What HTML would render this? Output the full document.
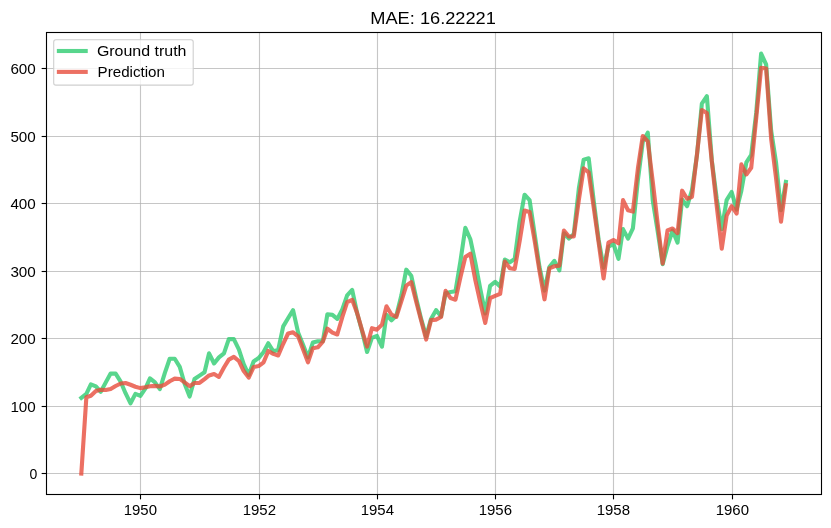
<!DOCTYPE html>
<html><head><meta charset="utf-8"><style>
html,body{margin:0;padding:0;background:#fff;}
svg{display:block;will-change:transform;}
text{font-family:"Liberation Sans",sans-serif;fill:#000;}
</style></head><body>
<svg width="831" height="528" viewBox="0 0 831 528">
<rect x="0" y="0" width="831" height="528" fill="#fff"/>
<g stroke="#b0b0b0" stroke-opacity="0.72" stroke-width="1.11" fill="none">
<line x1="46.5" y1="473.50" x2="821.5" y2="473.50"/>
<line x1="46.5" y1="406.50" x2="821.5" y2="406.50"/>
<line x1="46.5" y1="338.50" x2="821.5" y2="338.50"/>
<line x1="46.5" y1="271.50" x2="821.5" y2="271.50"/>
<line x1="46.5" y1="203.50" x2="821.5" y2="203.50"/>
<line x1="46.5" y1="136.50" x2="821.5" y2="136.50"/>
<line x1="46.5" y1="68.50" x2="821.5" y2="68.50"/>
<line x1="140.50" y1="32.5" x2="140.50" y2="494.5"/>
<line x1="259.50" y1="32.5" x2="259.50" y2="494.5"/>
<line x1="377.50" y1="32.5" x2="377.50" y2="494.5"/>
<line x1="495.50" y1="32.5" x2="495.50" y2="494.5"/>
<line x1="613.50" y1="32.5" x2="613.50" y2="494.5"/>
<line x1="732.50" y1="32.5" x2="732.50" y2="494.5"/>
</g>
<g fill="none" stroke-linejoin="round" stroke-linecap="square" stroke-width="4.1">
<polyline points="81.33,397.90 86.35,393.85 90.88,384.40 95.90,386.43 100.76,391.82 105.78,382.38 110.63,373.60 115.65,373.60 120.67,381.70 125.53,393.18 130.54,403.30 135.40,393.85 140.42,395.88 145.44,388.45 149.97,378.32 154.99,382.38 159.85,389.12 164.87,372.93 169.72,358.75 174.74,358.75 179.76,366.85 184.62,383.73 189.63,396.55 194.49,379.00 199.51,375.62 204.53,372.25 209.06,353.35 214.08,363.48 218.94,357.40 223.96,353.35 228.81,339.17 233.83,339.17 238.85,349.30 243.71,364.15 248.72,374.95 253.58,361.45 258.60,358.07 263.62,352.00 268.31,343.23 273.33,351.32 278.19,349.98 283.21,326.35 288.06,318.25 293.08,310.15 298.10,332.42 302.96,344.57 307.98,357.40 312.83,342.55 317.85,341.20 322.87,341.20 327.40,314.20 332.42,314.88 337.28,318.92 342.30,309.48 347.15,295.30 352.17,289.90 357.19,313.52 362.05,331.07 367.07,352.00 371.92,337.82 376.94,335.80 381.96,346.60 386.49,314.88 391.51,320.27 396.37,315.55 401.39,295.30 406.24,269.65 411.26,275.73 416.28,298.67 421.14,318.92 426.16,336.48 431.01,318.92 436.03,310.15 441.05,316.23 445.58,293.27 450.60,291.92 455.46,291.25 460.48,260.88 465.33,227.80 470.35,239.27 475.37,262.90 480.23,288.55 485.25,313.52 490.10,285.85 495.12,281.80 500.14,286.52 504.83,259.52 509.85,262.23 514.71,258.85 519.73,221.05 524.58,194.72 529.60,200.12 534.62,233.87 539.48,266.95 544.50,290.57 549.35,266.95 554.37,260.88 559.39,270.32 563.92,233.20 568.94,238.60 573.80,233.87 578.82,188.65 583.67,159.62 588.69,158.27 593.71,200.80 598.57,239.27 603.59,267.62 608.44,246.70 613.46,244.00 618.48,258.85 623.01,229.15 628.03,238.60 632.89,228.47 637.91,179.88 642.76,142.07 647.78,132.62 652.80,200.80 657.66,231.17 662.68,264.25 667.53,246.02 672.55,230.50 677.57,242.65 682.10,199.45 687.12,206.20 691.98,190.00 697.00,154.90 701.85,103.60 706.87,96.17 711.89,160.97 716.75,198.77 721.77,229.15 726.62,200.12 731.64,192.02 736.66,209.57 741.36,190.67 746.37,162.32 751.23,154.90 756.25,112.38 761.11,53.65 766.12,64.45 771.14,130.60 776.00,162.32 781.02,210.25 785.88,181.90" stroke="#2ecc71" stroke-opacity="0.8"/>
<polyline points="81.33,473.50 86.35,397.29 90.88,395.81 95.90,391.08 100.76,389.73 105.78,390.07 110.63,388.99 115.65,386.02 120.67,383.52 125.53,383.05 130.54,384.74 135.40,386.76 140.42,388.11 145.44,387.30 149.97,386.29 154.99,385.88 159.85,386.49 164.87,384.60 169.72,381.23 174.74,378.66 179.76,378.93 184.62,382.44 189.63,386.22 194.49,382.98 199.51,382.92 204.53,379.07 209.06,375.42 214.08,374.00 218.94,376.91 223.96,367.46 228.81,359.56 233.83,356.93 238.85,360.98 243.71,371.10 248.72,377.58 253.58,367.05 258.60,366.11 263.62,362.33 268.31,350.92 273.33,353.89 278.19,355.51 283.21,343.76 288.06,333.50 293.08,332.36 298.10,336.27 302.96,348.96 307.98,362.33 312.83,348.15 317.85,347.34 322.87,341.67 327.40,328.64 332.42,332.69 337.28,334.45 342.30,317.24 347.15,302.12 352.17,299.82 357.19,313.19 362.05,330.26 367.07,346.53 371.92,328.17 376.94,329.66 381.96,324.66 386.49,306.24 391.51,314.74 396.37,316.90 401.39,301.24 406.24,285.65 411.26,282.07 416.28,301.98 421.14,320.41 426.16,339.58 431.01,320.14 436.03,319.60 441.05,317.03 445.58,290.84 450.60,298.07 455.46,299.69 460.48,277.14 465.33,257.03 470.35,253.72 475.37,280.38 480.23,302.12 485.25,322.98 490.10,298.07 495.12,295.98 500.14,293.95 504.83,261.55 509.85,268.30 514.71,268.98 519.73,240.62 524.58,210.59 529.60,211.94 534.62,240.62 539.48,271.00 544.50,299.35 549.35,268.30 554.37,266.27 559.39,265.60 563.92,230.50 568.94,236.57 573.80,236.57 578.82,200.12 583.67,168.40 588.69,172.45 593.71,207.55 598.57,241.97 603.59,278.42 608.44,242.65 613.46,239.95 618.48,243.32 623.01,200.12 628.03,210.25 632.89,211.60 637.91,168.40 642.76,136.00 647.78,141.40 652.80,181.90 657.66,223.75 662.68,263.57 667.53,230.50 672.55,228.47 677.57,233.20 682.10,190.67 687.12,198.77 691.98,196.75 697.00,154.22 701.85,110.01 706.87,113.05 711.89,162.32 716.75,206.20 721.77,248.72 726.62,215.65 731.64,206.20 736.66,213.62 741.36,164.35 746.37,174.47 751.23,167.72 756.25,117.77 761.11,67.82 766.12,68.50 771.14,138.70 776.00,177.85 781.02,221.72 785.88,185.27" stroke="#e74c3c" stroke-opacity="0.8"/>
</g>
<g stroke="#000" stroke-width="1.11" fill="none">
<line x1="41.64" y1="473.50" x2="46.5" y2="473.50"/>
<line x1="41.64" y1="406.50" x2="46.5" y2="406.50"/>
<line x1="41.64" y1="338.50" x2="46.5" y2="338.50"/>
<line x1="41.64" y1="271.50" x2="46.5" y2="271.50"/>
<line x1="41.64" y1="203.50" x2="46.5" y2="203.50"/>
<line x1="41.64" y1="136.50" x2="46.5" y2="136.50"/>
<line x1="41.64" y1="68.50" x2="46.5" y2="68.50"/>
<line x1="140.50" y1="494.5" x2="140.50" y2="499.36"/>
<line x1="259.50" y1="494.5" x2="259.50" y2="499.36"/>
<line x1="377.50" y1="494.5" x2="377.50" y2="499.36"/>
<line x1="495.50" y1="494.5" x2="495.50" y2="499.36"/>
<line x1="613.50" y1="494.5" x2="613.50" y2="499.36"/>
<line x1="732.50" y1="494.5" x2="732.50" y2="499.36"/>
<rect x="46.5" y="32.5" width="775.00" height="462.00"/>
</g>
<g font-size="13.9">
<text x="37.3" y="478.80" text-anchor="end" textLength="7.8" lengthAdjust="spacingAndGlyphs">0</text>
<text x="35.8" y="411.80" text-anchor="end" textLength="25.4" lengthAdjust="spacingAndGlyphs">100</text>
<text x="35.8" y="343.80" text-anchor="end" textLength="25.4" lengthAdjust="spacingAndGlyphs">200</text>
<text x="35.8" y="276.80" text-anchor="end" textLength="25.4" lengthAdjust="spacingAndGlyphs">300</text>
<text x="35.8" y="208.80" text-anchor="end" textLength="25.4" lengthAdjust="spacingAndGlyphs">400</text>
<text x="35.8" y="141.80" text-anchor="end" textLength="25.4" lengthAdjust="spacingAndGlyphs">500</text>
<text x="35.8" y="73.80" text-anchor="end" textLength="25.4" lengthAdjust="spacingAndGlyphs">600</text>
<text x="140.35" y="515" text-anchor="middle" textLength="33.3" lengthAdjust="spacingAndGlyphs">1950</text>
<text x="259.35" y="515" text-anchor="middle" textLength="33.3" lengthAdjust="spacingAndGlyphs">1952</text>
<text x="377.35" y="515" text-anchor="middle" textLength="33.3" lengthAdjust="spacingAndGlyphs">1954</text>
<text x="495.35" y="515" text-anchor="middle" textLength="33.3" lengthAdjust="spacingAndGlyphs">1956</text>
<text x="613.35" y="515" text-anchor="middle" textLength="33.3" lengthAdjust="spacingAndGlyphs">1958</text>
<text x="732.35" y="515" text-anchor="middle" textLength="33.3" lengthAdjust="spacingAndGlyphs">1960</text>
</g>
<text x="433.1" y="23.8" text-anchor="middle" font-size="17.3" textLength="125.6" lengthAdjust="spacingAndGlyphs">MAE: 16.22221</text>
<rect x="53.7" y="39.8" width="139.5" height="45.3" rx="2.2" fill="#fff" fill-opacity="0.8" stroke="#cccccc" stroke-opacity="0.95" stroke-width="1.11"/>
<line x1="58.9" y1="51" x2="85.7" y2="51" stroke="#2ecc71" stroke-opacity="0.8" stroke-width="4.1" stroke-linecap="square"/>
<line x1="58.9" y1="71.9" x2="85.7" y2="71.9" stroke="#e74c3c" stroke-opacity="0.8" stroke-width="4.1" stroke-linecap="square"/>
<text x="96.9" y="55.8" font-size="13.9" textLength="89.6" lengthAdjust="spacingAndGlyphs">Ground truth</text>
<text x="97.6" y="76.7" font-size="13.9" textLength="67.4" lengthAdjust="spacingAndGlyphs">Prediction</text>
</svg>
</body></html>
